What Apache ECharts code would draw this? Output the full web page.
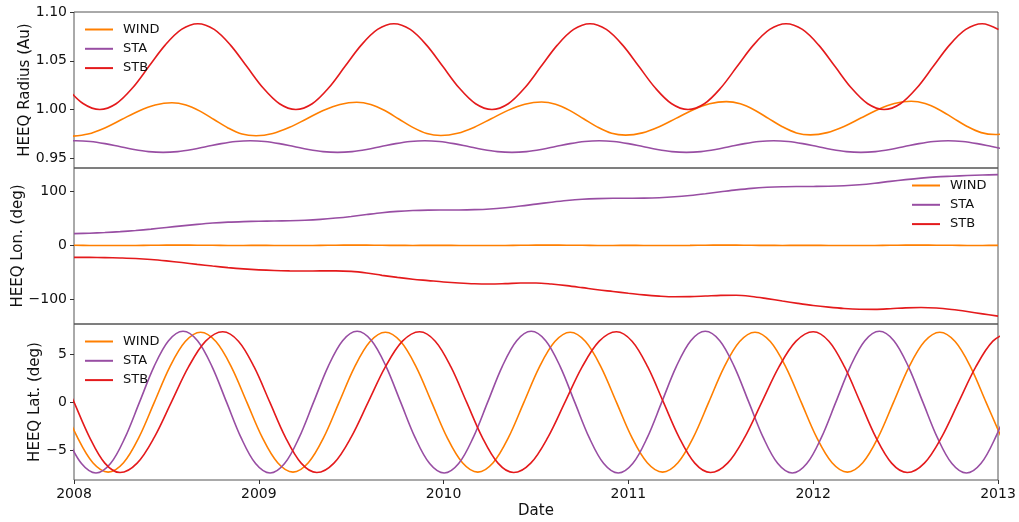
<!DOCTYPE html>
<html>
<head>
<meta charset="utf-8">
<script src="https://cdn.jsdelivr.net/npm/echarts@6/dist/echarts.min.js"></script>
<style>
  html, body { margin: 0; padding: 0; background: #fff; }
  #chart { width: 1019px; height: 522px; }
</style>
</head>
<body>
<div id="chart"></div>
<script>
const names = ['WIND', 'STA', 'STB'];
const colors = ['#ff7f00', '#984ea3', '#e41a1c'];

// ---- radius (Au), sampled around the read-off peaks and troughs ----
const windRadiusT = [
  2007.985, 2008.0758, 2008.1667, 2008.2575, 2008.3483, 2008.4392, 2008.530, 2008.6058, 2008.6817, 2008.7575, 2008.8333, 2008.9092,
  2008.985, 2009.0758, 2009.1667, 2009.2575, 2009.3483, 2009.4392, 2009.530, 2009.6058, 2009.6817, 2009.7575, 2009.8333, 2009.9092,
  2009.985, 2010.0758, 2010.1667, 2010.2575, 2010.3483, 2010.4392, 2010.530, 2010.6058, 2010.6817, 2010.7575, 2010.8333, 2010.9092,
  2010.985, 2011.0758, 2011.1667, 2011.2575, 2011.3483, 2011.4392, 2011.530, 2011.6058, 2011.6817, 2011.7575, 2011.8333, 2011.9092,
  2011.985, 2012.0758, 2012.1667, 2012.2575, 2012.3483, 2012.4392, 2012.530, 2012.6058, 2012.6817, 2012.7575, 2012.8333, 2012.9092,
  2012.985, 2013.0758
];
const windRadius = [
  0.9725, 0.9748, 0.9811, 0.9897, 0.9983, 1.0046, 1.0069, 1.0046, 0.9983, 0.9897, 0.9811, 0.9748,
  0.9731, 0.9754, 0.9817, 0.9903, 0.9989, 1.0052, 1.0075, 1.0052, 0.9989, 0.9903, 0.9817, 0.9754,
  0.9733, 0.9756, 0.9819, 0.9905, 0.9991, 1.0054, 1.0077, 1.0054, 0.9991, 0.9905, 0.9819, 0.9756,
  0.9737, 0.9760, 0.9823, 0.9909, 0.9995, 1.0058, 1.0081, 1.0058, 0.9995, 0.9909, 0.9823, 0.9760,
  0.9740, 0.9763, 0.9826, 0.9912, 0.9998, 1.0061, 1.0084, 1.0061, 0.9998, 0.9912, 0.9826, 0.9763,
  0.9743, 0.9766
];
const staRadiusT = [
  2007.9313,
  2008.0100, 2008.0887, 2008.1673, 2008.2460, 2008.3247, 2008.4033, 2008.4820, 2008.5607, 2008.6393, 2008.7180, 2008.7967, 2008.8753,
  2008.9540, 2009.0327, 2009.1113, 2009.1900, 2009.2687, 2009.3473, 2009.4260, 2009.5047, 2009.5833, 2009.6620, 2009.7407, 2009.8193,
  2009.8980, 2009.9767, 2010.0553, 2010.1340, 2010.2127, 2010.2913, 2010.3700, 2010.4487, 2010.5273, 2010.6060, 2010.6847, 2010.7633,
  2010.8420, 2010.9207, 2010.9993, 2011.0780, 2011.1567, 2011.2353, 2011.3140, 2011.3927, 2011.4713, 2011.5500, 2011.6287, 2011.7073,
  2011.7860, 2011.8647, 2011.9433, 2012.0220, 2012.1007, 2012.1793, 2012.2580, 2012.3367, 2012.4153, 2012.4940, 2012.5727, 2012.6513,
  2012.7300, 2012.8087, 2012.8873, 2012.9660, 2013.0447
];
const staRadius = [
  0.9672,
  0.9680, 0.9672, 0.9650, 0.9620, 0.9590, 0.9568, 0.9560, 0.9568, 0.9590, 0.9620, 0.9650, 0.9672,
  0.9680, 0.9672, 0.9650, 0.9620, 0.9590, 0.9568, 0.9560, 0.9568, 0.9590, 0.9620, 0.9650, 0.9672,
  0.9680, 0.9672, 0.9650, 0.9620, 0.9590, 0.9568, 0.9560, 0.9568, 0.9590, 0.9620, 0.9650, 0.9672,
  0.9680, 0.9672, 0.9650, 0.9620, 0.9590, 0.9568, 0.9560, 0.9568, 0.9590, 0.9620, 0.9650, 0.9672,
  0.9680, 0.9672, 0.9650, 0.9620, 0.9590, 0.9568, 0.9560, 0.9568, 0.9590, 0.9620, 0.9650, 0.9672,
  0.9680, 0.9672, 0.9650, 0.9620, 0.9590
];
const stbRadiusT = [
  2007.9626, 2008.0511, 2008.1395, 2008.2279, 2008.3163, 2008.4047, 2008.4932, 2008.5816, 2008.6700, 2008.7584, 2008.8468, 2008.9353,
  2009.0237, 2009.1121, 2009.2005, 2009.2889, 2009.3774, 2009.4658, 2009.5542, 2009.6426, 2009.7310, 2009.8195, 2009.9079, 2009.9963,
  2010.0847, 2010.1731, 2010.2616, 2010.3500, 2010.4384, 2010.5268, 2010.6152, 2010.7037, 2010.7921, 2010.8805, 2010.9689, 2011.0573,
  2011.1458, 2011.2342, 2011.3226, 2011.4110, 2011.4994, 2011.5879, 2011.6763, 2011.7647, 2011.8531, 2011.9415, 2012.0300, 2012.1184,
  2012.2068, 2012.2952, 2012.3836, 2012.4721, 2012.5605, 2012.6489, 2012.7373, 2012.8257, 2012.9142, 2013.0026
];
const stbRadius = [
  1.0220, 1.0059, 1.0000, 1.0059, 1.0220, 1.0440, 1.0660, 1.0821, 1.0880, 1.0821, 1.0660, 1.0440,
  1.0220, 1.0059, 1.0000, 1.0059, 1.0220, 1.0440, 1.0660, 1.0821, 1.0880, 1.0821, 1.0660, 1.0440,
  1.0220, 1.0059, 1.0000, 1.0059, 1.0220, 1.0440, 1.0660, 1.0821, 1.0880, 1.0821, 1.0660, 1.0440,
  1.0220, 1.0059, 1.0000, 1.0059, 1.0220, 1.0440, 1.0660, 1.0821, 1.0880, 1.0821, 1.0660, 1.0440,
  1.0220, 1.0059, 1.0000, 1.0059, 1.0220, 1.0440, 1.0660, 1.0821, 1.0880, 1.0821
];

// ---- longitude (deg), monthly 2008-01 .. 2013-01 ----
const months = [
  '2008-01','2008-02','2008-03','2008-04','2008-05','2008-06','2008-07','2008-08','2008-09','2008-10','2008-11','2008-12',
  '2009-01','2009-02','2009-03','2009-04','2009-05','2009-06','2009-07','2009-08','2009-09','2009-10','2009-11','2009-12',
  '2010-01','2010-02','2010-03','2010-04','2010-05','2010-06','2010-07','2010-08','2010-09','2010-10','2010-11','2010-12',
  '2011-01','2011-02','2011-03','2011-04','2011-05','2011-06','2011-07','2011-08','2011-09','2011-10','2011-11','2011-12',
  '2012-01','2012-02','2012-03','2012-04','2012-05','2012-06','2012-07','2012-08','2012-09','2012-10','2012-11','2012-12',
  '2013-01'
];
const windLon = [
  0.0, -0.2, -0.4, -0.4, -0.2, 0.1, 0.3, 0.4, 0.2, 0.0, -0.2, -0.2,
  -0.1, -0.3, -0.4, -0.3, -0.1, 0.2, 0.4, 0.3, 0.1, -0.1, -0.2, -0.1,
  0.0, -0.2, -0.4, -0.4, -0.2, 0.1, 0.3, 0.4, 0.2, 0.0, -0.2, -0.2,
  -0.1, -0.3, -0.4, -0.3, -0.1, 0.2, 0.4, 0.3, 0.1, -0.1, -0.2, -0.1,
  0.0, -0.2, -0.4, -0.4, -0.2, 0.1, 0.3, 0.4, 0.2, 0.0, -0.2, -0.2,
  -0.1
];
const staLon = [
  21.7, 22.4, 23.6, 25.3, 27.4, 30.0, 33.0, 36.0, 38.8, 41.2, 42.9, 43.9,
  44.5, 45.0, 45.5, 46.4, 48.0, 50.4, 53.4, 56.9, 60.2, 62.7, 64.3, 65.1,
  65.3, 65.4, 66.0, 67.3, 69.6, 72.6, 76.2, 79.7, 82.8, 85.1, 86.4, 87.0,
  87.1, 87.3, 88.1, 89.7, 92.2, 95.4, 99.0, 102.5, 105.4, 107.3, 108.4, 108.8,
  108.9, 109.2, 110.2, 112.1, 114.9, 118.3, 121.5, 124.3, 126.5, 127.8, 129.0, 130.0,
  130.7
];
const stbLon = [
  -22.2, -22.3, -22.7, -23.4, -24.4, -26.2, -28.8, -31.9, -35.2, -38.3, -41.2, -43.6,
  -45.4, -46.6, -47.2, -47.4, -47.3, -47.3, -48.2, -51.2, -55.5, -59.3, -62.6, -65.2,
  -67.8, -69.8, -71.2, -71.6, -70.9, -69.8, -69.6, -71.5, -74.5, -78.3, -82.3, -85.4,
  -88.6, -91.7, -93.9, -95.1, -94.9, -93.8, -92.6, -92.3, -94.5, -98.5, -103.0, -107.3,
  -111.2, -114.3, -116.8, -118.2, -118.4, -117.3, -115.6, -114.9, -116.0, -118.8, -122.5, -126.7,
  -130.9
];

// ---- latitude (deg), sampled around the read-off peaks and troughs ----
const windLatT = [
  2007.935, 2008.018, 2008.102, 2008.185, 2008.268, 2008.352, 2008.435, 2008.518, 2008.602, 2008.685, 2008.768, 2008.852,
  2008.935, 2009.018, 2009.102, 2009.185, 2009.268, 2009.352, 2009.435, 2009.518, 2009.602, 2009.685, 2009.768, 2009.852,
  2009.935, 2010.018, 2010.102, 2010.185, 2010.268, 2010.352, 2010.435, 2010.518, 2010.602, 2010.685, 2010.768, 2010.852,
  2010.935, 2011.018, 2011.102, 2011.185, 2011.268, 2011.352, 2011.435, 2011.518, 2011.602, 2011.685, 2011.768, 2011.852,
  2011.935, 2012.018, 2012.102, 2012.185, 2012.268, 2012.352, 2012.435, 2012.518, 2012.602, 2012.685, 2012.768, 2012.852,
  2012.935, 2013.018
];
const windLat = [
  0, -3.63, -6.28, -7.25, -6.28, -3.63, 0, 3.63, 6.28, 7.25, 6.28, 3.63,
  0, -3.63, -6.28, -7.25, -6.28, -3.63, 0, 3.63, 6.28, 7.25, 6.28, 3.63,
  0, -3.63, -6.28, -7.25, -6.28, -3.63, 0, 3.63, 6.28, 7.25, 6.28, 3.63,
  0, -3.63, -6.28, -7.25, -6.28, -3.63, 0, 3.63, 6.28, 7.25, 6.28, 3.63,
  0, -3.63, -6.28, -7.25, -6.28, -3.63, 0, 3.63, 6.28, 7.25, 6.28, 3.63,
  0, -3.63
];
const staLatT = [
  2007.9620, 2008.0405, 2008.1190, 2008.1975, 2008.2760, 2008.3545, 2008.4330, 2008.5115, 2008.5900, 2008.6685, 2008.7470, 2008.8255,
  2008.9040, 2008.9825, 2009.0610, 2009.1395, 2009.2180, 2009.2965, 2009.3750, 2009.4535, 2009.5320, 2009.6105, 2009.6890, 2009.7675,
  2009.8460, 2009.9245, 2010.0030, 2010.0815, 2010.1600, 2010.2385, 2010.3170, 2010.3955, 2010.4740, 2010.5525, 2010.6310, 2010.7095,
  2010.7880, 2010.8665, 2010.9450, 2011.0235, 2011.1020, 2011.1805, 2011.2590, 2011.3375, 2011.4160, 2011.4945, 2011.5730, 2011.6515,
  2011.7300, 2011.8085, 2011.8870, 2011.9655, 2012.0440, 2012.1225, 2012.2010, 2012.2795, 2012.3580, 2012.4365, 2012.5150, 2012.5935,
  2012.6720, 2012.7505, 2012.8290, 2012.9075, 2012.9860, 2013.0645
];
const staLat = [
  -3.68, -6.37, -7.35, -6.37, -3.68, 0, 3.68, 6.37, 7.35, 6.37, 3.68, 0,
  -3.68, -6.37, -7.35, -6.37, -3.68, 0, 3.68, 6.37, 7.35, 6.37, 3.68, 0,
  -3.68, -6.37, -7.35, -6.37, -3.68, 0, 3.68, 6.37, 7.35, 6.37, 3.68, 0,
  -3.68, -6.37, -7.35, -6.37, -3.68, 0, 3.68, 6.37, 7.35, 6.37, 3.68, 0,
  -3.68, -6.37, -7.35, -6.37, -3.68, 0, 3.68, 6.37, 7.35, 6.37, 3.68, 0,
  -3.68, -6.37, -7.35, -6.37, -3.68, 0
];
const stbLatT = [
  2007.9150, 2008.0000, 2008.0843, 2008.1667, 2008.2490,
  2008.3417, 2008.4343, 2008.5270, 2008.6197, 2008.7123, 2008.8050,
  2008.8898, 2008.9747, 2009.0595, 2009.1443, 2009.2292, 2009.3140,
  2009.4067, 2009.4993, 2009.5920, 2009.6847, 2009.7773, 2009.8700,
  2009.9548, 2010.0397, 2010.1245, 2010.2093, 2010.2942, 2010.3790,
  2010.4717, 2010.5643, 2010.6570, 2010.7497, 2010.8423, 2010.9350,
  2011.0198, 2011.1047, 2011.1895, 2011.2743, 2011.3592, 2011.4440,
  2011.5367, 2011.6293, 2011.7220, 2011.8147, 2011.9073, 2012.0000,
  2012.0848, 2012.1697, 2012.2545, 2012.3393, 2012.4242, 2012.5090,
  2012.6017, 2012.6943, 2012.7870, 2012.8797, 2012.9723, 2013.0650
];
const stbLat = [
  3.65, 0, -3.65, -6.32, -7.30,
  -6.32, -3.65, 0, 3.65, 6.32, 7.30,
  6.32, 3.65, 0, -3.65, -6.32, -7.30,
  -6.32, -3.65, 0, 3.65, 6.32, 7.30,
  6.32, 3.65, 0, -3.65, -6.32, -7.30,
  -6.32, -3.65, 0, 3.65, 6.32, 7.30,
  6.32, 3.65, 0, -3.65, -6.32, -7.30,
  -6.32, -3.65, 0, 3.65, 6.32, 7.30,
  6.32, 3.65, 0, -3.65, -6.32, -7.30,
  -6.32, -3.65, 0, 3.65, 6.32, 7.30
];

const yearTicks = [2008, 2009, 2010, 2011, 2012, 2013];
const radiusTicks = [0.95, 1.00, 1.05, 1.10];
const lonTicks = [-100, 0, 100];
const latTicks = [-5, 0, 5];

const font = 'DejaVu Sans';
const tickSize = 14;
const nameSize = 15;
const legendSize = 13;
const minus = v => (v < 0 ? '\u2212' + Math.abs(v) : String(v));

const monthX = months.map(s => {
  const [y, m] = s.split('-').map(Number);
  return y + (m - 1) / 12;
});
const zip = (xs, ys) => ys.map((v, i) => [xs[i], v]);

const chart = echarts.init(document.getElementById('chart'), null, { renderer: 'canvas' });

const gridTops = [12, 168, 324];
const grids = gridTops.map(t => ({
  left: 74, right: 21, top: t, height: 156,
  show: true, borderColor: '#555', borderWidth: 1, backgroundColor: 'transparent'
}));

const xAxes = [0, 1, 2].map(i => ({
  type: 'value', gridIndex: i, min: 2008, max: 2013,
  axisLine: { show: false, onZero: false },
  splitLine: { show: false },
  axisTick: {
    show: i === 2, length: 4, lineStyle: { color: '#333' },
    customValues: yearTicks
  },
  axisLabel: {
    show: i === 2, customValues: yearTicks, margin: 7,
    color: '#111', fontFamily: font, fontSize: tickSize,
    formatter: v => String(v)
  },
  name: i === 2 ? 'Date' : '',
  nameLocation: 'middle', nameGap: 24, nameMoveOverlap: false,
  nameTextStyle: { color: '#111', fontFamily: font, fontSize: nameSize }
}));

function yAxis(i, min, max, ticks, fmt, title, gap) {
  return {
    type: 'value', gridIndex: i, min: min, max: max,
    axisLine: { show: false, onZero: false },
    splitLine: { show: false },
    axisTick: { show: true, length: 4, lineStyle: { color: '#333' }, customValues: ticks },
    axisLabel: {
      customValues: ticks, margin: 7, color: '#111',
      fontFamily: font, fontSize: tickSize, formatter: fmt
    },
    name: title, nameLocation: 'middle', nameRotate: 90, nameGap: gap,
    nameMoveOverlap: false,
    nameTextStyle: { color: '#111', fontFamily: font, fontSize: nameSize }
  };
}

const yAxes = [
  yAxis(0, 0.94, 1.10, radiusTicks, v => v.toFixed(2), 'HEEQ Radius (Au)', 41),
  yAxis(1, -145.5, 143, lonTicks, v => minus(v), 'HEEQ Lon. (deg)', 48),
  yAxis(2, -8.07, 8.1, latTicks, v => minus(v), 'HEEQ Lat. (deg)', 31)
];

const panels = [
  [zip(windRadiusT, windRadius), zip(staRadiusT, staRadius), zip(stbRadiusT, stbRadius)],
  [zip(monthX, windLon), zip(monthX, staLon), zip(monthX, stbLon)],
  [zip(windLatT, windLat), zip(staLatT, staLat), zip(stbLatT, stbLat)]
];

const series = [];
panels.forEach((sets, p) => {
  sets.forEach((data, j) => {
    series.push({
      name: names[j], type: 'line', xAxisIndex: p, yAxisIndex: p,
      data: data, showSymbol: false, smooth: 0.34, clip: true,
      lineStyle: { color: colors[j], width: 1.6 },
      itemStyle: { color: colors[j] },
      silent: true
    });
  });
});

function legend(left, top) {
  return {
    data: names, orient: 'vertical', left: left, top: top, padding: 0,
    icon: 'rect', itemWidth: 28, itemHeight: 2, itemGap: 5.3,
    selectedMode: false,
    textStyle: {
      color: '#111', fontFamily: font, fontSize: legendSize, lineHeight: 14,
      padding: [0, 0, 0, 5]
    }
  };
}

chart.setOption({
  animation: false,
  backgroundColor: '#fff',
  grid: grids,
  xAxis: xAxes,
  yAxis: yAxes,
  legend: [legend(85, 22.5), legend(912, 178.5), legend(85, 334.5)],
  series: series
});
</script>
</body>
</html>
